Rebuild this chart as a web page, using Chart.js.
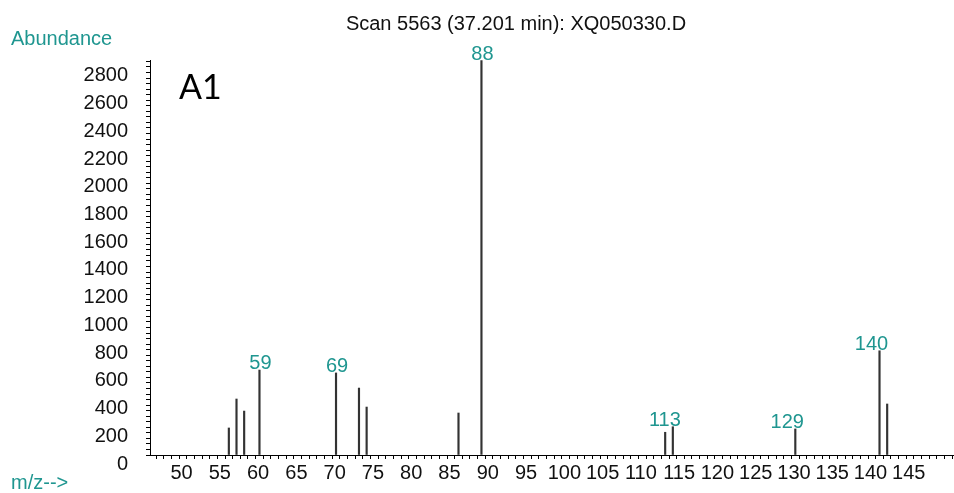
<!DOCTYPE html>
<html>
<head>
<meta charset="utf-8">
<script src="https://cdn.jsdelivr.net/npm/chart.js@4.4.0/dist/chart.umd.min.js"></script>
<style>
html, body { margin: 0; padding: 0; background: #fff; }
#ms_chart { display: block; }
</style>
</head>
<body>
<canvas id="ms_chart" width="954" height="493"></canvas>
<script>
// peaks: m/z and abundance
var mzValues = [55, 56, 57, 59, 69, 72, 73, 85, 88, 112, 113, 129, 140, 141];
var abundances = [195, 404, 317, 613, 592, 483, 346, 303, 2845, 164, 204, 188, 752, 368];
var labelledPeaks = [59, 69, 88, 113, 129, 140];

var scanTitle = "Scan 5563 (37.201 min): XQ050330.D";
var yTitle = "Abundance";
var xTitle = "m/z-->";
var panelTag = "A1";

var teal = "#1f9690";
var sans = "'Liberation Sans', Arial, sans-serif";

var ctx = document.getElementById("ms_chart").getContext("2d");

// text bits that are not axis ticks (title, axis names, peak labels)
var msText = {
  id: "msText",
  afterDraw: function(chart) {
    var c = chart.ctx;
    var xs = chart.scales.x;
    var ys = chart.scales.y;
    c.save();
    c.textBaseline = "alphabetic";

    c.fillStyle = "#111";
    c.font = "20px " + sans;
    c.textAlign = "center";
    c.fillText(scanTitle, 516, 30);

    c.fillStyle = teal;
    c.textAlign = "left";
    c.font = "20px " + sans;
    c.fillText(yTitle, 11, 45);
    c.fillText(xTitle, 11, 489);

    c.fillStyle = "#000";
    c.font = "34px Lato, 'Open Sans', sans-serif";
    c.fillText(panelTag, 179, 99);

    c.fillStyle = teal;
    c.textAlign = "center";
    c.font = "20px " + sans;
    for (var i = 0; i < mzValues.length; i++) {
      if (labelledPeaks.indexOf(mzValues[i]) < 0) continue;
      var txt = String(mzValues[i]);
      var px = xs.getPixelForValue(mzValues[i]) + (txt.length > 2 ? -8 : 1);
      var py = ys.getPixelForValue(abundances[i]) - 1;
      c.fillText(txt, px, py);
    }
    c.restore();
  }
};

var points = [];
for (var i = 0; i < mzValues.length; i++) {
  points.push({ x: mzValues[i], y: abundances[i] });
}

var myChart = new Chart(ctx, {
  type: "bar",
  data: {
    datasets: [{
      data: points,
      backgroundColor: "#333",
      borderWidth: 0,
      barThickness: 1.5
    }]
  },
  options: {
    responsive: false,
    animation: false,
    layout: { padding: { top: 60, right: 1, left: 0, bottom: 0 } },
    plugins: {
      legend: { display: false },
      tooltip: { enabled: false }
    },
    scales: {
      x: {
        type: "linear",
        min: 44.7,
        max: 149.6,
        offset: false,
        grid: { drawOnChartArea: false, drawTicks: true, tickLength: 4, color: "#000" },
        border: { color: "#000", width: 1 },
        ticks: {
          stepSize: 1,
          autoSkip: false,
          includeBounds: false,
          maxRotation: 0,
          labelOffset: -9,
          padding: 2,
          color: "#111",
          font: { family: sans, size: 20 },
          callback: function(v) {
            return (v % 5 === 0 && v >= 50) ? String(v) : "";
          }
        },
        afterFit: function(s) { s.height = 38; }
      },
      y: {
        min: 0,
        max: 2850,
        grid: { drawOnChartArea: false, drawTicks: true, tickLength: 4, color: "#000" },
        border: { color: "#000", width: 1 },
        ticks: {
          stepSize: 40,
          autoSkip: false,
          includeBounds: false,
          labelOffset: 9,
          padding: 18,
          color: "#111",
          font: { family: sans, size: 20 },
          callback: function(v) {
            return (v % 200 === 0) ? String(v) : "";
          }
        },
        afterFit: function(s) { s.width = 150; }
      }
    }
  },
  plugins: [msText]
});
</script>
</body>
</html>
